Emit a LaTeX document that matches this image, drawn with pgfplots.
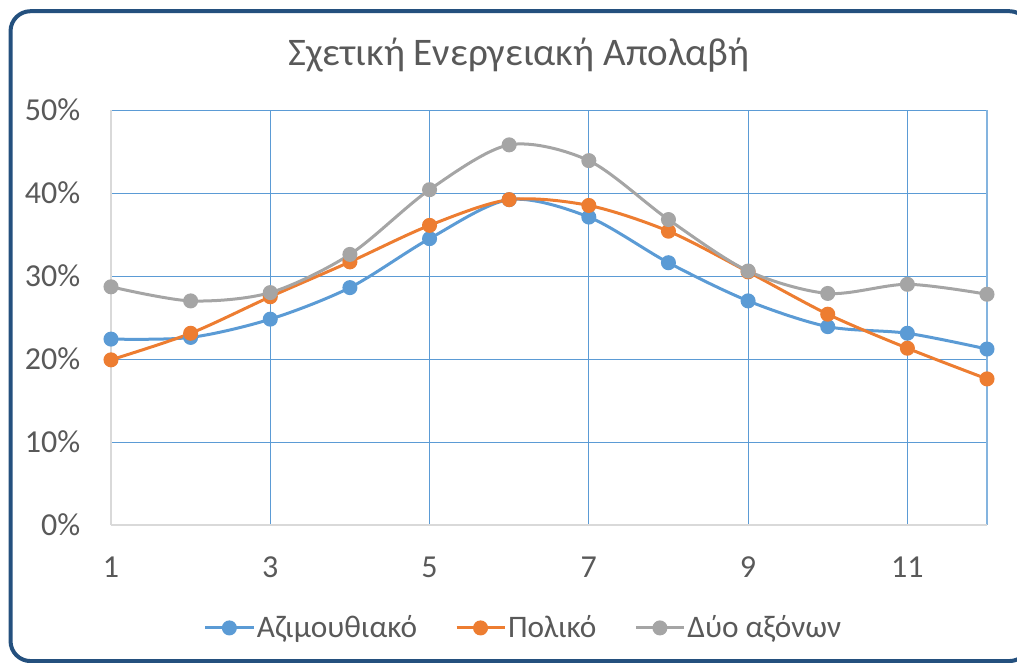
\documentclass[border=0pt]{standalone}
\usepackage{fontspec}
\setmainfont{Carlito}
\usepackage{pgfplots}
\pgfplotsset{compat=1.18}
\definecolor{cblue}{HTML}{5B9BD5}
\definecolor{corange}{HTML}{ED7D31}
\definecolor{cgray}{HTML}{A5A5A5}
\definecolor{ctext}{HTML}{595959}
\definecolor{cframe}{HTML}{24507E}
\definecolor{caxis}{HTML}{D9D9D9}
\pgfplotstableread{
x y
1 22.4
2 22.6
3 24.8
4 28.6
5 34.5
6 39.2
7 37.1
8 31.6
9 27.0
10 23.9
11 23.1
12 21.2
}\azim
\pgfplotstableread{
x y
1 19.9
2 23.1
3 27.5
4 31.7
5 36.1
6 39.2
7 38.5
8 35.4
9 30.5
10 25.4
11 21.3
12 17.6
}\polik
\pgfplotstableread{
x y
1 28.7
2 27.0
3 28.0
4 32.6
5 40.4
6 45.8
7 43.9
8 36.8
9 30.6
10 27.9
11 29.0
12 27.8
}\dyo
\begin{document}
\begin{tikzpicture}
\path[use as bounding box] (0pt,0pt) rectangle (762.75pt,-497.25pt);
\begin{scope}
\clip (0pt,0pt) rectangle (762.75pt,-497.25pt);
\draw[cframe, line width=3pt, rounded corners=15pt] (7.9pt,-8.4pt) rectangle (772pt,-495.8pt);
\end{scope}
\node[text=ctext, font=\fontsize{29.3}{29.3}\selectfont] at (389.25pt,-41.5pt) {Σχετική Ενεργειακή Απολαβή};
\begin{axis}[
  at={(83.25pt,-393.75pt)}, anchor=south west,
  scale only axis, width=657pt, height=311.25pt,
  xmin=1, xmax=12, ymin=0, ymax=50,
  xtick={1,3,5,7,9,11}, xticklabels={1,3,5,7,9,11},
  ytick={0,10,20,30,40,50}, yticklabels={0\%,10\%,20\%,30\%,40\%,50\%},
  extra x ticks={12}, extra x tick labels={},
  extra x tick style={grid=major, major grid style={cblue!75, line width=0.9pt}},
  grid=major, major grid style={cblue, line width=0.75pt},
  axis line style={draw=none},
  major tick length=0pt,
  tick label style={font=\fontsize{24}{24}\selectfont, text=ctext},
  yticklabel style={xshift=-19.5pt},
  xticklabel style={yshift=-20.5pt},
  clip=false,
  legend style={at={(0.4709,-0.248)}, anchor=center, draw=none, fill=none,
    legend columns=3, font=\fontsize{23.5}{23.5}\selectfont, text=ctext,
    nodes={inner sep=1.5pt},
    /tikz/every even column/.append style={column sep=27pt},
    /tikz/every odd column/.append style={column sep=0pt}},
  legend image code/.code={\draw[#1, mark repeat=2, mark phase=2] plot coordinates {(0pt,0pt) (18pt,0pt) (36pt,0pt)};},
  every axis plot/.append style={line width=2.25pt, mark=*, mark size=4.5pt},
]
\draw[caxis, line width=1pt] (rel axis cs:0,0) -- (rel axis cs:1,0);
\draw[caxis, line width=1pt] (rel axis cs:0,0) -- (rel axis cs:0,1);
\addplot[cblue, smooth, mark options={fill=cblue}] table[x=x,y=y] {\azim};
\addplot[corange, smooth, mark options={fill=corange}] table[x=x,y=y] {\polik};
\addplot[cgray, smooth, mark options={fill=cgray}] table[x=x,y=y] {\dyo};
\legend{Αζιμουθιακό, Πολικό, Δύο αξόνων}
\end{axis}
\end{tikzpicture}
\end{document}
